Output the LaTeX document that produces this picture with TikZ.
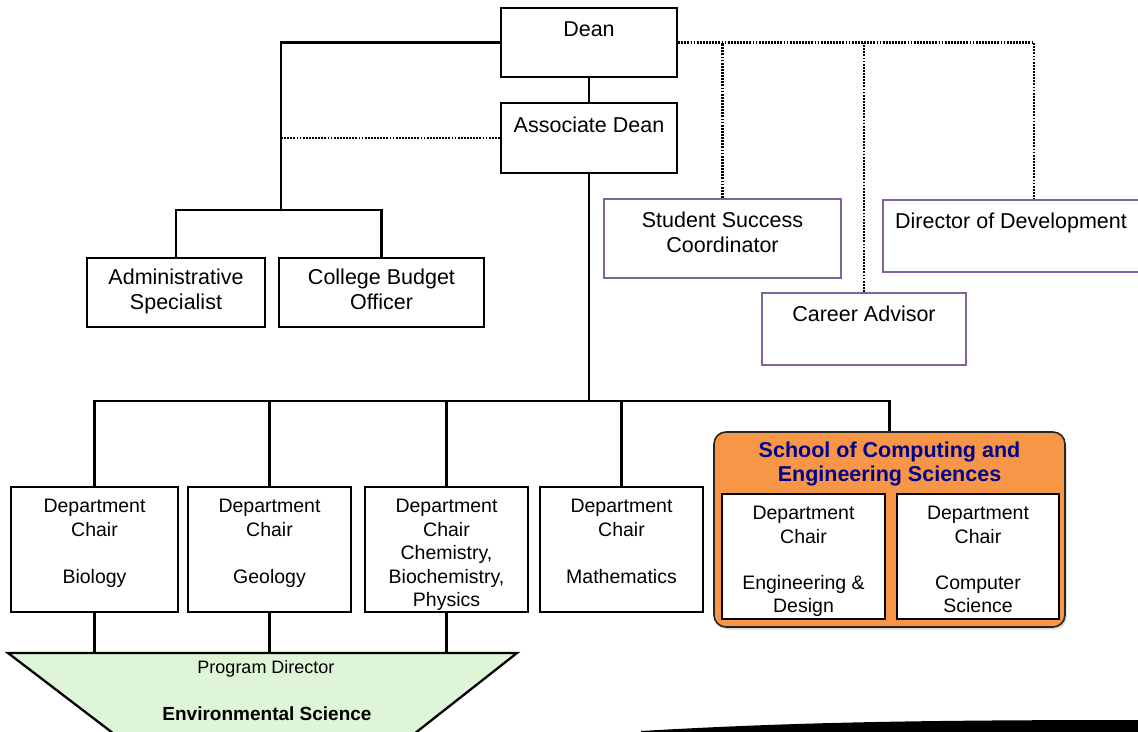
\documentclass[tikz,border=0pt]{standalone}
\usepackage{fontspec}
\setmainfont{Liberation Sans}
\usetikzlibrary{positioning,shadows}
\definecolor{staffpurple}{RGB}{128,100,162}
\definecolor{schoolorange}{RGB}{247,150,70}
\definecolor{schoolblue}{RGB}{0,0,140}
\definecolor{envgreen}{RGB}{222,245,215}

\begin{document}
\begin{tikzpicture}[x=1pt,y=-1pt,
	box/.style={draw, line width=2.3pt, fill=white, inner sep=0pt},
	staffbox/.style={draw=staffpurple, line width=2.3pt, fill=white, inner sep=0pt},
	link/.style={line width=2.3pt},
	dotlink/.style={line width=2.5pt, dash pattern=on 1.8pt off 1.3pt},
	bigtxt/.style={inner sep=0pt, anchor=north, align=center, font=\fontsize{21.5}{25.5}\selectfont},
	depttxt/.style={inner sep=0pt, anchor=north, align=center, font=\fontsize{19.5}{23.5}\selectfont}]
	\useasboundingbox (0,0) rectangle (1138,731);

	%Program (trapezoid, runs off the page)
	\draw [line width=2.3pt, fill=envgreen] (8,653) -- (517,653) -- (400,745) -- (128.5,745) -- cycle;
	\coordinate (envtop) at (262,653);

	%Boxes
	\node [box, minimum width=176pt, minimum height=69pt] (dean) at (589,42.5) {};
	\node [box, minimum width=176pt, minimum height=70pt] (assoc) at (589,138) {};
	\node [box, minimum width=178pt, minimum height=69pt] (admin) at (176,292.5) {};
	\node [box, minimum width=205pt, minimum height=69pt] (budget) at (381.5,292.5) {};
	\node [staffbox, minimum width=237pt, minimum height=79pt] (success) at (722.5,238.5) {};
	\node [staffbox, minimum width=257pt, minimum height=72pt] (develop) at (1011.5,236) {};
	\node [staffbox, minimum width=204pt, minimum height=72pt] (career) at (864,329) {};
	\node [box, minimum width=167pt, minimum height=125pt] (bio) at (94.5,549.5) {};
	\node [box, minimum width=163pt, minimum height=125pt] (geo) at (269.5,549.5) {};
	\node [box, minimum width=163pt, minimum height=125pt] (chem) at (446.5,549.5) {};
	\node [box, minimum width=163pt, minimum height=125pt] (math) at (621.5,549.5) {};
	\node [draw=black!85, line width=1.6pt, fill=schoolorange, rounded corners=12pt, inner sep=0pt,
		minimum width=351pt, minimum height=195pt,
		drop shadow={opacity=0.3, shadow xshift=1.5pt, shadow yshift=-2.5pt}] (school) at (889.5,529.5) {};
	\node [box, minimum width=163pt, minimum height=125pt] (engdes) at (803.5,556.5) {};
	\node [box, minimum width=162pt, minimum height=125pt] (compsci) at (978,556.5) {};

	%Straight Lines
	\coordinate (adminbus) at (281,210);
	\coordinate (deptbus) at (589,401);
	\draw [link] (dean) -- (assoc);
	\draw [link] (dean.west) -| (adminbus);
	\draw [link] (admin.north) -- (admin.north |- adminbus) -- (budget.north |- adminbus) -- (budget.north);
	\draw [dotlink] (assoc.west) -- (assoc.west -| adminbus);
	\draw [link] (assoc.south) -- (deptbus);
	\draw [link] (bio.north) -- (bio.north |- deptbus) -- (school.north |- deptbus) -- (school.north);
	\foreach \dept in {geo,chem,math}
		\draw [link] (\dept.north) -- (\dept.north |- deptbus);
	\foreach \dept in {bio,geo,chem}
		\draw [link] (\dept.south) -- (\dept.south |- envtop);

	%Dotted Lines
	\draw [dotlink] (dean.east) -| ([xshift=22.5pt]develop.north);
	\draw [dotlink] (success.north) -- (success.north |- dean.east);
	\draw [dotlink] (career.north) -- (career.north |- dean.east);

	% Text Node
	\node [bigtxt] (deanlbl) at (589,22) {Dean};
	\node [bigtxt] (assoclbl) at (589,117) {Associate Dean};
	\node [bigtxt] (adminlbl) at (176,268.5) {Administrative\\Specialist};
	\node [bigtxt] (budgetlbl) at (381.5,268.5) {College Budget\\Officer};
	\node [bigtxt] (successlbl) at (722.5,211.5) {Student Success\\Coordinator};
	\node [bigtxt] (developlbl) at (1011,213) {Director of Development};
	\node [bigtxt] (careerlbl) at (864,306) {Career Advisor};
	\node [depttxt] (biolbl) at (94.5,499) {Department\\Chair\\[23.5pt]Biology};
	\node [depttxt] (geolbl) at (269.5,499) {Department\\Chair\\[23.5pt]Geology};
	\node [depttxt] (chemlbl) at (446.5,499) {Department\\Chair\\Chemistry,\\Biochemistry,\\Physics};
	\node [depttxt] (mathlbl) at (621.5,499) {Department\\Chair\\[23.5pt]Mathematics};
	\node [inner sep=0pt, anchor=north, align=center, text=schoolblue,
		font=\fontsize{21.5}{24}\selectfont\bfseries] (schoollbl) at (889.5,441.5) {School of Computing and\\Engineering Sciences};
	\node [depttxt] (engdeslbl) at (803.5,506) {Department\\Chair\\[22.5pt]Engineering \&\\Design};
	\node [depttxt] (compscilbl) at (978,506) {Department\\Chair\\[22.5pt]Computer\\Science};
	\node [inner sep=0pt, anchor=north, font=\fontsize{18}{21}\selectfont] (envlbl) at (266,660.5) {Program Director};
	\node [inner sep=0pt, anchor=north, font=\fontsize{19}{22}\selectfont\bfseries] (envname) at (267,707) {Environmental Science};

	%Swoosh
	\fill (641,731) .. controls (780,723) and (900,720) .. (1138,720) -- (1138,735) -- (641,735) -- cycle;

\end{tikzpicture}
\end{document}
